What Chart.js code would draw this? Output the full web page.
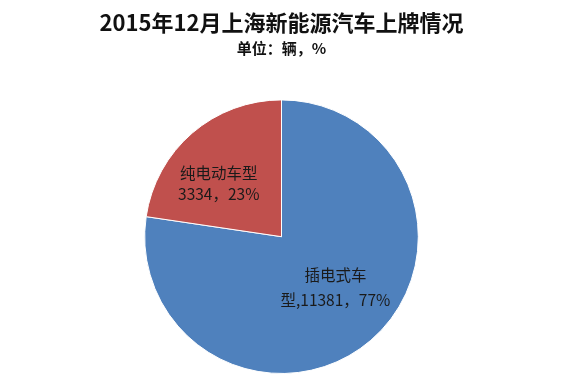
<!DOCTYPE html>
<html>
<head>
<meta charset="utf-8">
<script src="https://cdn.jsdelivr.net/npm/chart.js@4/dist/chart.umd.min.js"></script>
<style>
html,body{margin:0;padding:0;background:#fff;}
#wrap{width:563px;height:387px;position:relative;}
</style>
</head>
<body>
<div id="wrap"><canvas id="c" width="563" height="387"></canvas></div>
<script>
const categories = ["插电式车型", "纯电动车型"];
const values = [11381, 3334];
const percents = [77, 23];
const labelLines = [["插电式车", "型,11381，77%"], ["纯电动车型", "3334，23%"]];
const colors = ["#4F81BD", "#C0504D"];
const titleText = "2015年12月上海新能源汽车上牌情况";
const subtitleText = "单位：辆，%";

// label placement: fraction of radius along slice direction, angle tweak (rad), line spacing
const labelPlace = [{f: 0.54, da: -0.106, lh: 25}, {f: 0.60, da: -0.159, lh: 21}];

const labelPlugin = {
  id: 'sliceLabels',
  afterDatasetsDraw(chart) {
    const ctx = chart.ctx;
    const meta = chart.getDatasetMeta(0);
    ctx.save();
    ctx.font = '15.5px "Noto Sans CJK SC", sans-serif';
    ctx.fillStyle = '#1a1a1a';
    ctx.textAlign = 'center';
    ctx.textBaseline = 'middle';
    meta.data.forEach((arc, i) => {
      const p = arc.getProps(['x','y','startAngle','endAngle','outerRadius'], true);
      const mid = (p.startAngle + p.endAngle) / 2 + labelPlace[i].da;
      const r = p.outerRadius * labelPlace[i].f;
      const cx = p.x + Math.cos(mid) * r;
      const cy = p.y + Math.sin(mid) * r;
      const lines = labelLines[i];
      const lh = labelPlace[i].lh;
      lines.forEach((t, k) => {
        ctx.fillText(t, cx, cy + (k - (lines.length - 1) / 2) * lh);
      });
    });
    ctx.restore();
  }
};

new Chart(document.getElementById('c'), {
  type: 'pie',
  data: {
    labels: categories,
    datasets: [{
      data: values,
      backgroundColor: colors,
      borderColor: '#ffffff',
      borderWidth: 1
    }]
  },
  options: {
    responsive: false,
    animation: false,
    layout: {padding: {left: 0, right: 0, top: 0, bottom: 13}},
    plugins: {
      legend: {display: false},
      tooltip: {enabled: false},
      title: {
        display: true,
        text: titleText,
        color: '#111',
        font: {family: '"Noto Sans CJK SC", sans-serif', size: 22, weight: 'bold'},
        padding: {top: 9, bottom: 2}
      },
      subtitle: {
        display: true,
        text: subtitleText,
        color: '#111',
        font: {family: '"Noto Sans CJK SC", sans-serif', size: 15, weight: 'bold'},
        padding: {top: 2, bottom: 42}
      }
    }
  },
  plugins: [labelPlugin]
});
</script>
</body>
</html>
